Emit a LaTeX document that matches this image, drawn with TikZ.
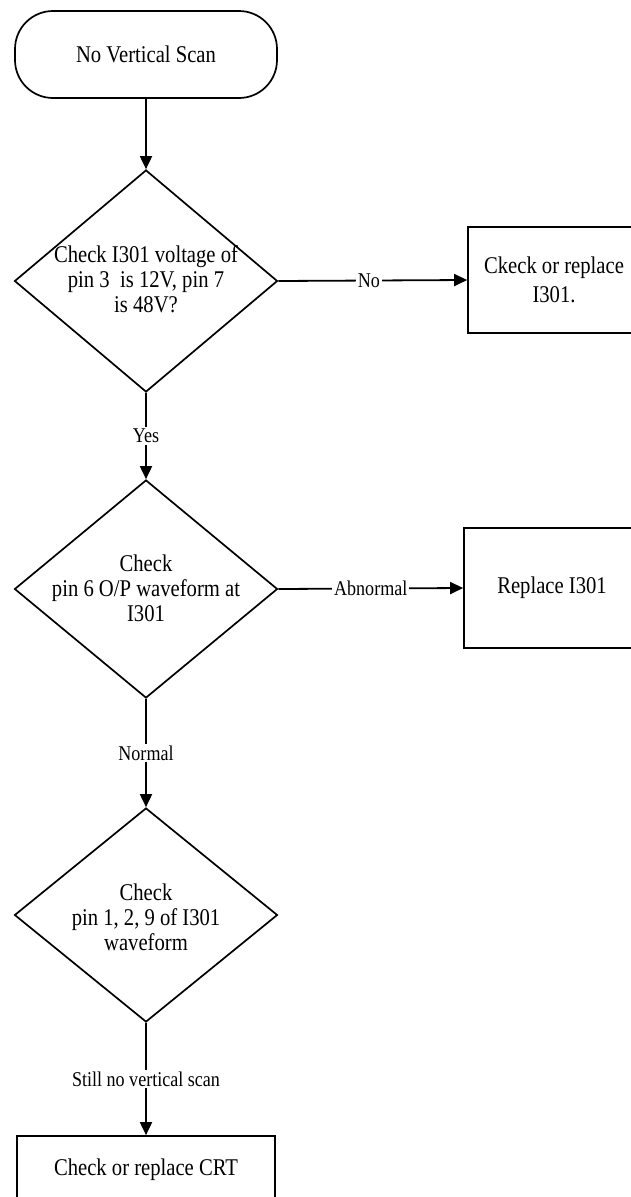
\documentclass[tikz,border=0pt]{standalone}
\usepackage{fontspec}
\setmainfont{Liberation Serif}[FakeStretch=0.86]
\usetikzlibrary{shapes.geometric,arrows.meta}
\begin{document}
\begin{tikzpicture}[x=1pt,y=-1pt,
  conn/.style={line width=1.8pt},
  arr/.style={conn,-{Triangle[length=13pt,width=12pt]}},
  dia/.style={draw,line width=1.7pt,diamond,minimum width=263pt,minimum height=222pt,inner sep=0pt},
  boxn/.style={draw,line width=1.7pt,rectangle,inner sep=0pt},
  txt/.style={align=center,font=\fontsize{24}{25}\selectfont},
  lab/.style={fill=white,inner sep=2pt,font=\fontsize{21}{23}\selectfont}]
\useasboundingbox (0,0) rectangle (631,1197);
\clip (0,0) rectangle (631,1197);
\fill[white] (0,0) rectangle (631,1197);

\node[boxn,rounded corners=38pt,minimum width=262pt,minimum height=87pt] (start) at (146,54.5) {};
\node[txt] (starttxt) at (start) {No Vertical Scan};

\node[dia] (d1) at (146,281) {};
\node[txt] (d1txt) at (146,279) {Check I301 voltage of\\pin 3\ \ is 12V, pin 7\\is 48V?};

\node[boxn,minimum width=172pt,minimum height=106pt] (b1) at (554,280) {};
\node[txt,font=\fontsize{24}{29}\selectfont] (b1txt) at (b1) {Ckeck or replace\\I301.};

\node[dia,minimum height=218pt] (d2) at (146,589) {};
\node[txt] (d2txt) at (146,588) {Check\\pin 6 O/P waveform at\\I301};

\node[boxn,minimum width=176pt,minimum height=120pt] (b2) at (552,588) {};
\node[txt] (b2txt) at (b2) {Replace I301};

\node[dia,minimum height=214pt] (d3) at (146,915) {};
\node[txt] (d3txt) at (146,917) {Check\\pin 1, 2, 9 of I301\\waveform};

\node[boxn,minimum width=258pt,minimum height=68pt] (b3) at (146,1170) {};
\node[txt] (b3txt) at (b3) {Check or replace CRT};

\draw[arr] (start.south) -- (d1.north);
\draw[arr] (d1.east) -- node[lab,pos=0.48] {No} (b1.west);
\draw[arr] (d1.south) -- node[lab] {Yes} (d2.north);
\draw[arr] (d2.east) -- node[lab] {Abnormal} (b2.west);
\draw[arr] (d2.south) -- node[lab] {Normal} (d3.north);
\draw[arr] (d3.south) -- node[lab] {Still no vertical scan} (b3.north);
\end{tikzpicture}
\end{document}
